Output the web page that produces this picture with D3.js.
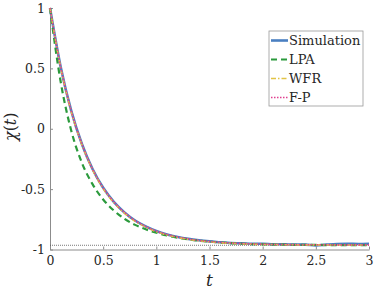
<!DOCTYPE html>
<html>
<head>
<meta charset="utf-8">
<script src="https://cdn.jsdelivr.net/npm/d3@7"></script>
<style>
body { margin: 0; background: #fff; }
</style>
</head>
<body>
<div id="vis"></div>
<script>
// time grid and curves
var tVals = [0, 0.1, 0.2, 0.3, 0.4, 0.5, 0.6, 0.7, 0.8, 0.9, 1.0,
	1.1, 1.2, 1.3, 1.4, 1.5, 1.6, 1.7, 1.8, 1.9, 2.0,
	2.1, 2.2, 2.3, 2.4, 2.5, 2.6, 2.7, 2.8, 2.9, 3.0];
var simVals = [1.00, 0.514, 0.148, -0.126, -0.333, -0.489, -0.605, -0.693, -0.760, -0.809, -0.847,
	-0.875, -0.896, -0.912, -0.924, -0.933, -0.940, -0.947, -0.949, -0.953, -0.952,
	-0.957, -0.956, -0.960, -0.960, -0.966, -0.960, -0.955, -0.953, -0.954, -0.952];
var lpaVals = [1.00, 0.391, -0.016, -0.282, -0.459, -0.586, -0.677, -0.746, -0.796, -0.833, -0.861,
	-0.884, -0.902, -0.916, -0.927, -0.935, -0.942, -0.948, -0.952, -0.955, -0.957,
	-0.959, -0.960, -0.961, -0.962, -0.962, -0.963, -0.963, -0.963, -0.963, -0.963];
var wfrVals = [1.00, 0.508, 0.141, -0.132, -0.339, -0.495, -0.611, -0.699, -0.766, -0.814, -0.852,
	-0.880, -0.900, -0.916, -0.928, -0.937, -0.944, -0.949, -0.953, -0.956, -0.958,
	-0.959, -0.960, -0.961, -0.962, -0.962, -0.962, -0.963, -0.963, -0.963, -0.963];
var fpVals = [1.00, 0.514, 0.148, -0.126, -0.333, -0.489, -0.605, -0.693, -0.760, -0.809, -0.847,
	-0.875, -0.896, -0.912, -0.924, -0.933, -0.940, -0.946, -0.950, -0.953, -0.956,
	-0.958, -0.959, -0.960, -0.961, -0.961, -0.961, -0.962, -0.962, -0.962, -0.962];
var limitVal = -0.965;
var xTicks = [0, 0.5, 1, 1.5, 2, 2.5, 3];
var yTicks = [-1, -0.5, 0, 0.5, 1];
var seriesNames = ["Simulation", "LPA", "WFR", "F-P"];

var serif = "'DejaVu Serif', 'Liberation Serif', serif";

var W = 374, H = 289;
var margin = {top: 8, right: 5, bottom: 39.5, left: 50},
	width = W - margin.left - margin.right,
	height = H - margin.top - margin.bottom;

var x = d3.scaleLinear().domain([0, 3]).range([0, width]);
var y = d3.scaleLinear().domain([-1, 1]).range([height, 0]);

var svg = d3.select("#vis").append("svg")
	.attr("width", W)
	.attr("height", H)
.append("g")
	.attr("transform", "translate(" + margin.left + "," + margin.top + ")");

//axes, matlab style ticks pointing inward
var xAxis = svg.append("g")
	.attr("transform", "translate(0," + height + ")")
	.call(d3.axisBottom(x).tickValues(xTicks).tickSizeInner(-3).tickSizeOuter(0)
		.tickFormat(function(d){ return String(d); }));
xAxis.attr("font-family", serif);
xAxis.selectAll("text").attr("y", 7).attr("dy", "0.71em")
	.style("font-family", serif).style("font-size", "12.5px").attr("fill", "#262626");
var yAxis = svg.append("g")
	.call(d3.axisLeft(y).tickValues(yTicks).tickSizeInner(-3).tickSizeOuter(0)
		.tickFormat(function(d){ return String(d); }));
yAxis.attr("font-family", serif);
yAxis.selectAll("text").attr("x", -5)
	.style("font-family", serif).style("font-size", "12.5px").attr("fill", "#262626");
svg.selectAll(".domain, .tick line").attr("stroke", "#8c8c8c");

//limit line
svg.append("line")
	.attr("x1", x(0)).attr("x2", x(3))
	.attr("y1", y(limitVal)).attr("y2", y(limitVal))
	.attr("stroke", "#555").attr("stroke-width", 0.8)
	.attr("stroke-dasharray", "1,1");

var line = d3.line()
	.x(function(d){ return x(d[0]); })
	.y(function(d){ return y(d[1]); })
	.curve(d3.curveMonotoneX);

var styles = [
	{vals: simVals, color: "#4a7fc1", w: 2.6, dash: null},
	{vals: lpaVals, color: "#2b9a3c", w: 2.2, dash: "6,4"},
	{vals: wfrVals, color: "#e2c446", w: 1.6, dash: "5,2,1.5,2"},
	{vals: fpVals, color: "#e0408f", w: 1.6, dash: "1.5,1.5"}
];

styles.forEach(function(s){
	svg.append("path")
		.datum(tVals.map(function(t, i){ return [t, s.vals[i]]; }))
		.attr("fill", "none")
		.attr("stroke", s.color)
		.attr("stroke-width", s.w)
		.attr("stroke-dasharray", s.dash)
		.attr("d", line);
});

//axis labels
svg.append("text")
	.attr("x", x(1.5))
	.attr("y", height + 36)
	.style("font-family", serif)
	.style("text-anchor", "middle")
	.style("font-size", "17px")
	.style("font-style", "italic")
	.attr("fill", "#262626")
	.text("t");
svg.append("text")
	.attr("transform", "translate(-34," + (y(0) - 2) + ") rotate(-90)")
	.style("font-family", serif)
	.style("text-anchor", "middle")
	.style("font-size", "16px")
	.attr("fill", "#262626")
	.html("<tspan font-style='italic'>χ</tspan>(<tspan font-style='italic'>t</tspan>)");

//legend
var lg = svg.append("g").attr("transform", "translate(" + (269 - margin.left) + "," + (31 - margin.top) + ")");
lg.append("rect")
	.attr("width", 94).attr("height", 75)
	.attr("fill", "#fff").attr("stroke", "#999").attr("stroke-width", 0.8);
seriesNames.forEach(function(n, i){
	var yy = 9.5 + i * 19;
	lg.append("line")
		.attr("x1", 2).attr("x2", 19)
		.attr("y1", yy).attr("y2", yy)
		.attr("stroke", styles[i].color)
		.attr("stroke-width", styles[i].w)
		.attr("stroke-dasharray", styles[i].dash);
	lg.append("text")
		.attr("x", 20).attr("y", yy)
		.attr("dy", "0.35em")
		.style("font-family", serif)
		.style("font-size", "13px")
		.attr("fill", "#262626")
		.text(n);
});
</script>
</body>
</html>
